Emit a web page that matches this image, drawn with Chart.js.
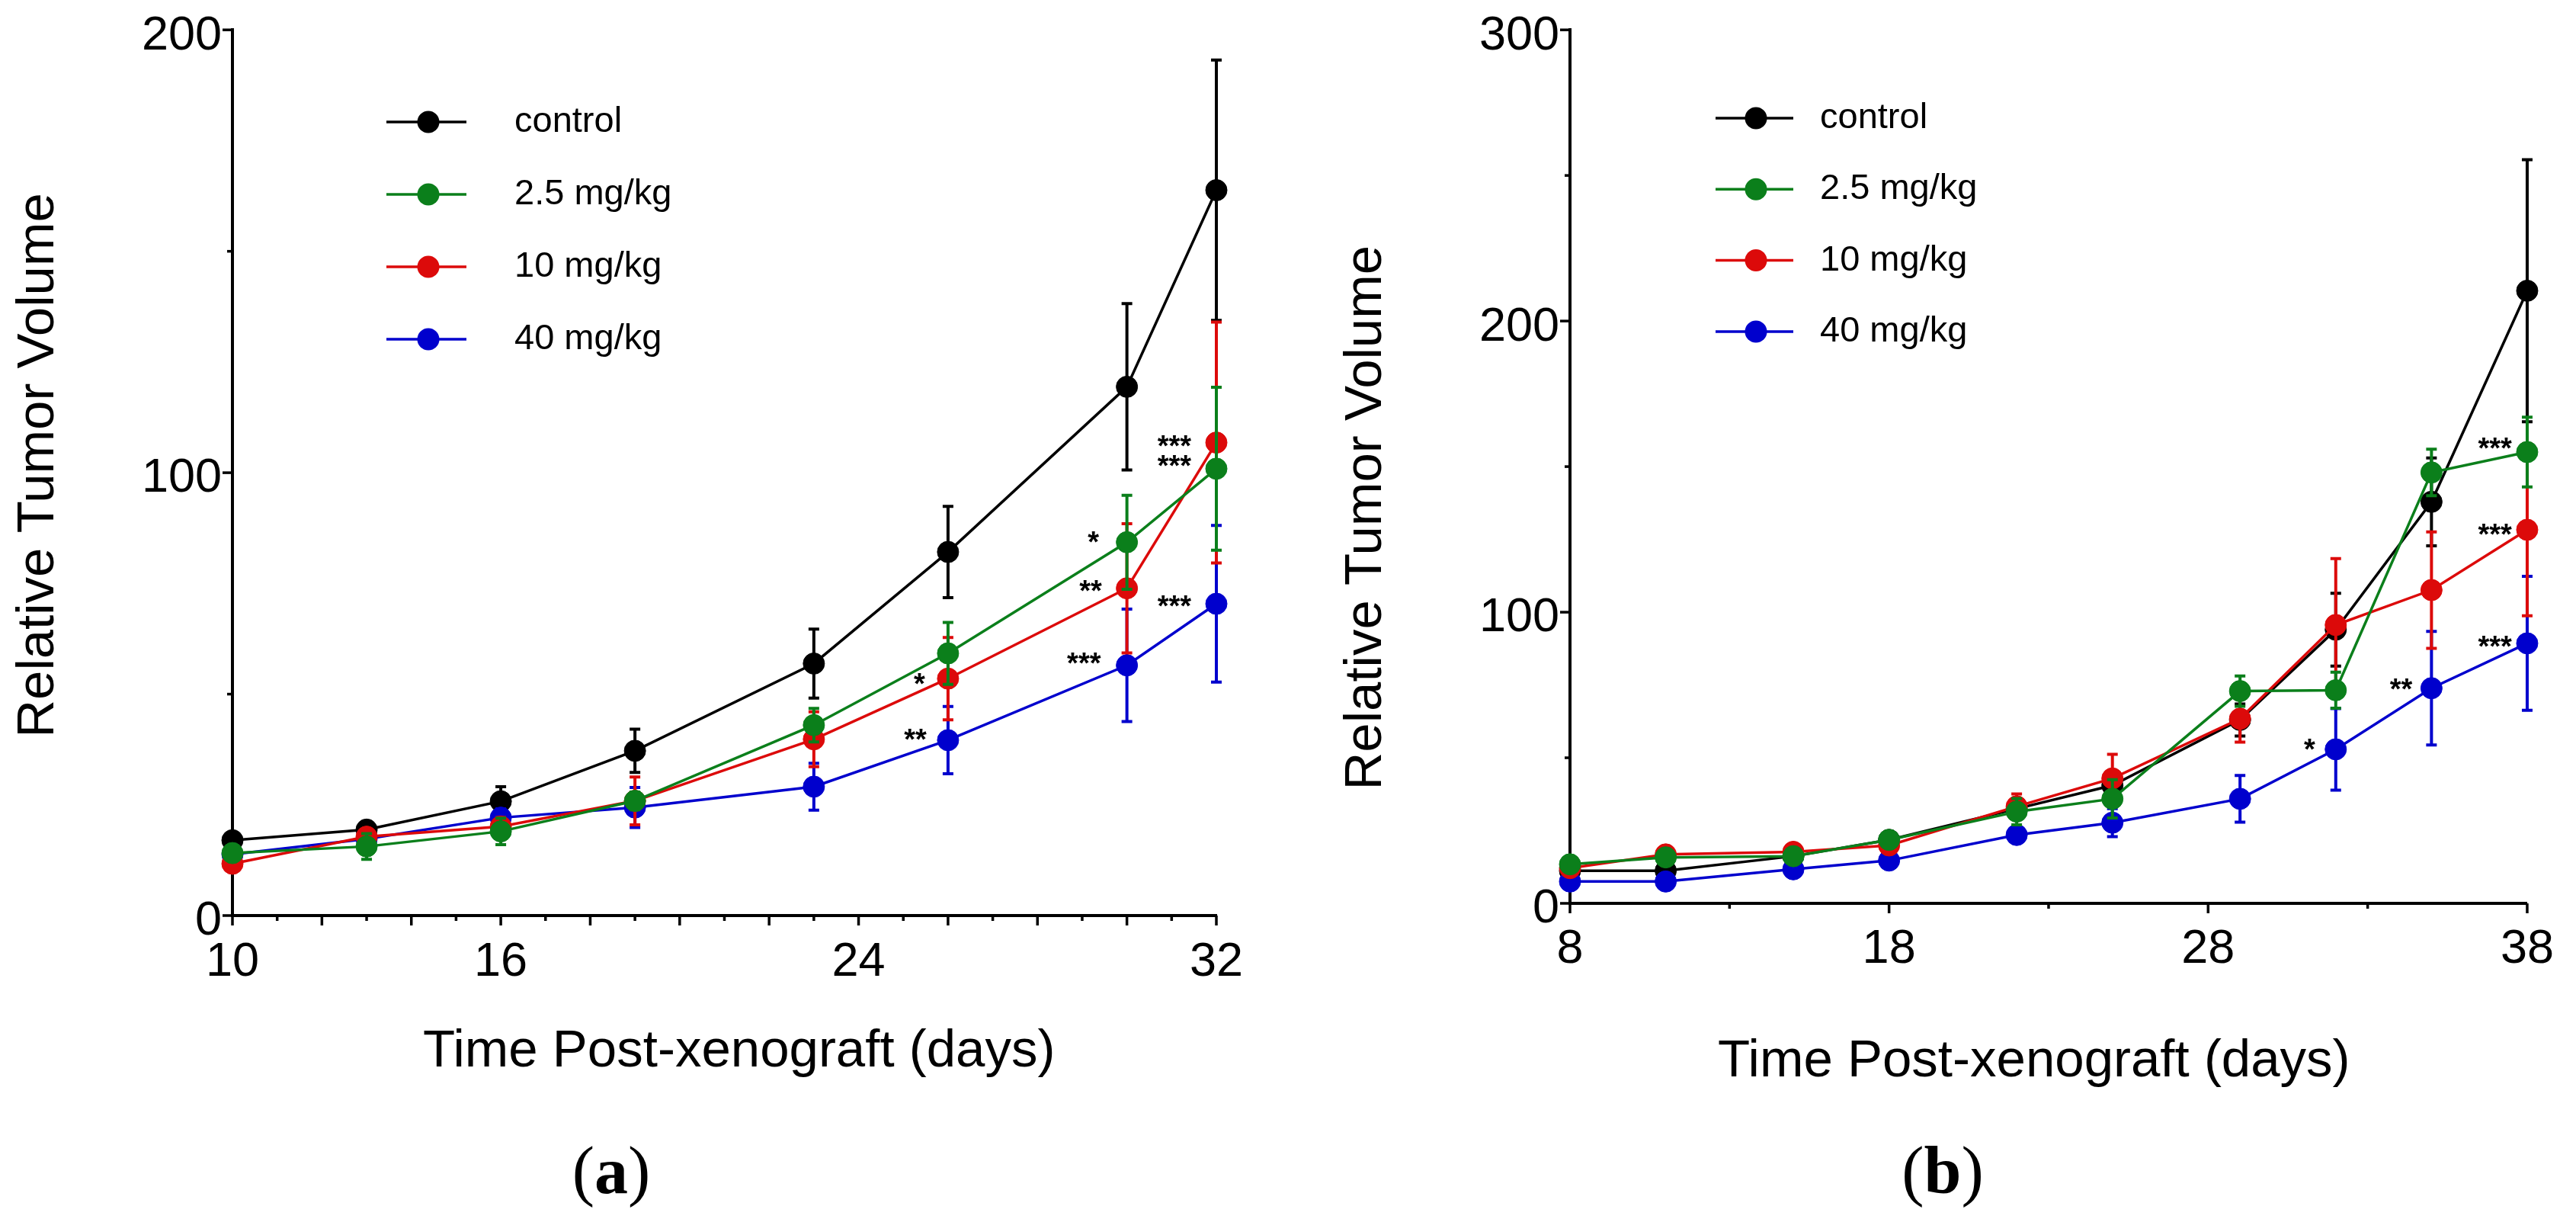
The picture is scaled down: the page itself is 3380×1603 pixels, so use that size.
<!DOCTYPE html>
<html>
<head>
<meta charset="utf-8">
<script src="https://cdn.jsdelivr.net/npm/chart.js@4.4.1/dist/chart.umd.min.js"></script>
<style>
html, body { margin: 0; padding: 0; background: #ffffff; width: 3380px; height: 1603px; overflow: hidden; }
canvas { position: absolute; top: 0; }
#chartA { left: 0px; }
#chartB { left: 1690px; }
</style>
</head>
<body>
<canvas id="chartA" width="1690" height="1603"></canvas>
<canvas id="chartB" width="1690" height="1603"></canvas>
<script>
// ---------- shared ----------
const seriesLabels = ['control', '2.5 mg/kg', '10 mg/kg', '40 mg/kg'];
const seriesColors = ['#000000', '#0b7f1b', '#dc0a0a', '#0000cd'];
const seriesOrder  = [4, 1, 2, 3];

// ---------- panel (a) ----------
const daysA      = [10, 13, 16, 19, 23, 26, 30, 32];
const controlA   = [17.0, 19.4, 25.8, 37.2, 56.9, 82.1, 119.4, 163.8];
const controlErrA= [1.5, 1.8, 3.3, 4.9, 7.8, 10.3, 18.8, 29.4];
const mg25A      = [14.1, 15.6, 19.0, 25.9, 43.0, 59.2, 84.3, 100.9];
const mg25ErrA   = [1.5, 2.9, 3.0, 2.0, 3.8, 7.0, 10.6, 18.4];
const mg10A      = [11.7, 17.8, 20.1, 25.9, 39.8, 53.5, 73.9, 106.8];
const mg10ErrA   = [1.0, 1.5, 2.0, 5.4, 6.2, 9.3, 14.6, 27.2];
const mg40A      = [13.8, 17.3, 22.1, 24.4, 29.1, 39.6, 56.5, 70.4];
const mg40ErrA   = [1.0, 1.5, 2.0, 4.5, 5.3, 7.6, 12.7, 17.7];
const xTickLabelsA = [10, 16, 24, 32];
const xMajorA    = [10, 12, 14, 16, 18, 20, 22, 24, 26, 28, 30, 32];
const xMinorA    = [11, 13, 15, 17, 19, 21, 23, 25, 27, 29, 31];
const yTickLabelsA = [0, 100, 200];
const yMinorA    = [50, 150];
const starTextA  = ['***', '***', '*', '**', '***', '***', '*', '**'];
const starDayA   = [31.06, 31.06, 29.25, 29.19, 31.06, 29.04, 25.36, 25.27];
const starValA   = [107.5, 103.0, 85.7, 74.7, 71.2, 58.3, 53.7, 41.2];

// ---------- panel (b) ----------
const daysB      = [8, 11, 15, 18, 22, 25, 29, 32, 35, 38];
const controlB   = [11.2, 11.2, 16.2, 21.8, 32.5, 40.5, 63.0, 94.0, 137.9, 210.4];
const controlErrB= [0.8, 1.0, 1.5, 2.0, 3.0, 4.0, 5.5, 12.5, 15.1, 45.0];
const mg25B      = [13.4, 15.8, 16.2, 21.8, 31.5, 35.9, 72.9, 73.2, 148.0, 155.0];
const mg25ErrB   = [1.0, 1.5, 1.5, 2.0, 4.5, 6.6, 5.2, 6.2, 8.0, 12.0];
const mg10B      = [12.1, 16.8, 17.7, 19.9, 33.3, 42.9, 63.4, 95.6, 107.6, 128.3];
const mg10ErrB   = [1.0, 1.5, 1.5, 2.0, 4.3, 8.3, 8.0, 22.8, 20.0, 29.5];
const mg40B      = [7.5, 7.5, 11.7, 14.7, 23.5, 27.7, 35.9, 52.9, 73.9, 89.3];
const mg40ErrB   = [1.0, 1.0, 1.5, 1.5, 2.0, 4.8, 8.0, 14.0, 19.5, 23.0];
const xTickLabelsB = [8, 18, 28, 38];
const xMajorB    = [8, 18, 28, 38];
const xMinorB    = [13, 23, 33];
const yTickLabelsB = [0, 100, 200, 300];
const yMinorB    = [50, 150, 250];
const starTextB  = ['***', '***', '***', '**', '*'];
const starDayB   = [36.99, 36.99, 36.99, 34.05, 31.18];
const starValB   = [158.4, 128.7, 90.4, 75.7, 55.1];

// ---------- plugins ----------
const FONT = "'Liberation Sans', Arial, Helvetica, sans-serif";
const SERIF = "'Liberation Serif', 'DejaVu Serif', serif";

const errorBarPlugin = {
  id: 'errorBars',
  beforeDatasetDraw(chart, args) {
    const ds = chart.data.datasets[args.index];
    if (!ds.errors) return;
    const ys = chart.scales.y, ctx = chart.ctx;
    ctx.save();
    ctx.strokeStyle = ds.borderColor;
    ctx.lineWidth = 4;
    args.meta.data.forEach((pt, i) => {
      const v = ds.data[i].y, e = ds.errors[i];
      const top = ys.getPixelForValue(v + e), bot = ys.getPixelForValue(v - e);
      ctx.beginPath();
      ctx.moveTo(pt.x, top); ctx.lineTo(pt.x, bot);
      ctx.moveTo(pt.x - 7, top); ctx.lineTo(pt.x + 7, top);
      ctx.moveTo(pt.x - 7, bot); ctx.lineTo(pt.x + 7, bot);
      ctx.stroke();
    });
    ctx.restore();
  }
};

const tickMarkPlugin = {
  id: 'tickMarks',
  afterDraw(chart, args, opts) {
    const { ctx, chartArea, scales: { x, y } } = chart;
    ctx.save();
    ctx.strokeStyle = '#000';
    ctx.lineWidth = 3.5;
    const draw = (vals, len, horiz) => vals.forEach(v => {
      ctx.beginPath();
      if (horiz) {
        const px = x.getPixelForValue(v);
        ctx.moveTo(px, chartArea.bottom); ctx.lineTo(px, chartArea.bottom + len);
      } else {
        const py = y.getPixelForValue(v);
        ctx.moveTo(chartArea.left, py); ctx.lineTo(chartArea.left - len, py);
      }
      ctx.stroke();
    });
    draw(opts.xMajor, 13, true);
    draw(opts.xMinor, 7, true);
    draw(opts.yMajor, 13, false);
    draw(opts.yMinor, 7, false);
    ctx.restore();
  }
};

const starPlugin = {
  id: 'stars',
  afterDatasetsDraw(chart, args, opts) {
    const { ctx, scales: { x, y } } = chart;
    ctx.save();
    ctx.fillStyle = '#000';
    ctx.font = 'bold 38px ' + FONT;
    ctx.textAlign = 'center';
    ctx.textBaseline = 'alphabetic';
    opts.text.forEach((t, i) => {
      ctx.fillText(t, x.getPixelForValue(opts.days[i]), y.getPixelForValue(opts.vals[i]) + 21);
    });
    ctx.restore();
  }
};

const lineLegendPlugin = {
  id: 'lineLegend',
  afterDraw(chart, args, opts) {
    const ctx = chart.ctx;
    ctx.save();
    chart.data.datasets.forEach((ds, i) => {
      const yy = opts.y0 + i * opts.dy;
      ctx.strokeStyle = ds.borderColor;
      ctx.lineWidth = 3.5;
      ctx.beginPath(); ctx.moveTo(opts.x0, yy); ctx.lineTo(opts.x1, yy); ctx.stroke();
      ctx.fillStyle = ds.borderColor;
      ctx.beginPath(); ctx.arc(opts.xm, yy, 14.5, 0, Math.PI * 2); ctx.fill();
      ctx.fillStyle = '#000';
      ctx.font = '47px ' + FONT;
      ctx.textAlign = 'left';
      ctx.textBaseline = 'middle';
      ctx.fillText(ds.label, opts.xt, yy);
    });
    ctx.restore();
  }
};

const captionPlugin = {
  id: 'caption',
  afterDraw(chart, args, opts) {
    const ctx = chart.ctx;
    ctx.save();
    ctx.fillStyle = '#000';
    ctx.textBaseline = 'alphabetic';
    ctx.textAlign = 'left';
    const reg = '88px ' + SERIF, bold = 'bold 88px ' + SERIF;
    ctx.font = reg; const wp = ctx.measureText('(').width, wq = ctx.measureText(')').width;
    ctx.font = bold; const wl = ctx.measureText(opts.letter).width;
    let xx = opts.x - (wp + wl + wq) / 2;
    ctx.font = reg; ctx.fillText('(', xx, opts.y); xx += wp;
    ctx.font = bold; ctx.fillText(opts.letter, xx, opts.y); xx += wl;
    ctx.font = reg; ctx.fillText(')', xx, opts.y);
    ctx.restore();
  }
};

function makeDatasets(days, series, errs) {
  return series.map((vals, k) => ({
    label: seriesLabels[k],
    data: days.map((d, i) => ({ x: d, y: vals[i] })),
    errors: errs[k],
    borderColor: seriesColors[k],
    backgroundColor: seriesColors[k],
    pointBackgroundColor: seriesColors[k],
    pointBorderColor: seriesColors[k],
    pointRadius: 14,
    pointBorderWidth: 1,
    pointHoverRadius: 14,
    borderWidth: 3.5,
    tension: 0,
    clip: false,
    order: seriesOrder[k]
  }));
}

function makeChart(id, cfg) {
  return new Chart(document.getElementById(id), {
    type: 'line',
    data: { datasets: makeDatasets(cfg.days, cfg.series, cfg.errs) },
    plugins: [errorBarPlugin, tickMarkPlugin, starPlugin, lineLegendPlugin, captionPlugin],
    options: {
      responsive: false,
      animation: false,
      devicePixelRatio: 1,
      layout: { padding: cfg.padding },
      plugins: {
        legend: { display: false },
        tooltip: { enabled: false },
        tickMarks: { xMajor: cfg.xMajor, xMinor: cfg.xMinor, yMajor: cfg.yTicks, yMinor: cfg.yMinor },
        stars: { text: cfg.starText, days: cfg.starDay, vals: cfg.starVal },
        lineLegend: cfg.legend,
        caption: cfg.caption
      },
      scales: {
        x: {
          type: 'linear', position: 'bottom', min: cfg.xMin, max: cfg.xMax,
          grid: { display: false, drawTicks: false, tickLength: 0 },
          border: { display: true, color: '#000', width: 4 },
          afterBuildTicks: s => { s.ticks = cfg.xTicks.map(v => ({ value: v })); },
          ticks: { autoSkip: false, maxRotation: 0, minRotation: 0, padding: cfg.xTickPad, color: '#000',
                   font: { family: FONT, size: 63, lineHeight: 1 } },
          title: { display: true, text: cfg.xTitle, color: '#000',
                   font: { family: FONT, size: 69, lineHeight: 1.2 }, padding: { top: 0, bottom: 0 } },
          afterFit: s => { s.height = cfg.xHeight; }
        },
        y: {
          type: 'linear', position: 'left', min: 0, max: cfg.yMax,
          grid: { display: false, drawTicks: false, tickLength: 0 },
          border: { display: true, color: '#000', width: 4 },
          afterBuildTicks: s => { s.ticks = cfg.yTicks.map(v => ({ value: v })); },
          ticks: { padding: 14, labelOffset: 8, color: '#000', font: { family: FONT, size: 63, lineHeight: 0.8 } },
          title: { display: true, text: cfg.yTitle, color: '#000',
                   font: { family: FONT, size: 69, lineHeight: 1.2 }, padding: { top: cfg.yTitlePad, bottom: 0 } },
          afterFit: s => { s.width = cfg.yWidth; }
        }
      }
    }
  });
}

makeChart('chartA', {
  days: daysA,
  series: [controlA, mg25A, mg10A, mg40A],
  errs: [controlErrA, mg25ErrA, mg10ErrA, mg40ErrA],
  xMin: 10, xMax: 32, yMax: 200,
  xTicks: xTickLabelsA, xMajor: xMajorA, xMinor: xMinorA,
  yTicks: yTickLabelsA, yMinor: yMinorA,
  starText: starTextA, starDay: starDayA, starVal: starValA,
  padding: { left: 0, top: 31, right: 94, bottom: 182 },
  xHeight: 220, yWidth: 305, xTickPad: 30, yTitlePad: 10,
  xTitle: '  Time Post-xenograft (days)',
  yTitle: ' Relative Tumor Volume',
  legend: { x0: 507, x1: 612, xm: 562, xt: 675, y0: 160, dy: 95 },
  caption: { letter: 'a', x: 802, y: 1565 }
});

makeChart('chartB', {
  days: daysB,
  series: [controlB, mg25B, mg10B, mg40B],
  errs: [controlErrB, mg25ErrB, mg10ErrB, mg40ErrB],
  xMin: 8, xMax: 38, yMax: 300,
  xTicks: xTickLabelsB, xMajor: xMajorB, xMinor: xMinorB,
  yTicks: yTickLabelsB, yMinor: yMinorB,
  starText: starTextB, starDay: starDayB, starVal: starValB,
  padding: { left: 0, top: 26.5, right: 44, bottom: 168.6 },
  xHeight: 249.4, yWidth: 370, xTickPad: 29, yTitlePad: 61.6,
  xTitle: 'Time Post-xenograft (days)  ',
  yTitle: 'Relative Tumor Volume       ',
  legend: { x0: 561, x1: 663, xm: 614, xt: 698, y0: 155, dy: 93.3 },
  caption: { letter: 'b', x: 859, y: 1565 }
});
</script>
</body>
</html>
